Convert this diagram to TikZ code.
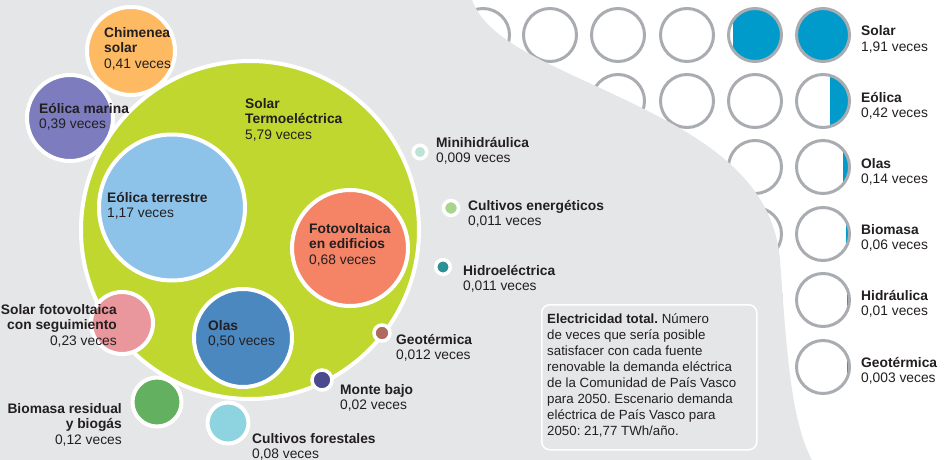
\documentclass[tikz,border=0pt]{standalone}
\usepackage{fontspec}
\setmainfont{Liberation Sans}
\definecolor{bggrey}{HTML}{E5E6E8}
\definecolor{ink}{HTML}{231F20}
\definecolor{ringgrey}{HTML}{A9ADB2}
\definecolor{sliceblue}{HTML}{009BCB}
\definecolor{termogreen}{HTML}{C0D72F}
\definecolor{terrblue}{HTML}{8DC3E9}
\definecolor{chimorange}{HTML}{FDBA63}
\definecolor{marinapurple}{HTML}{7C7CBE}
\definecolor{fotosalmon}{HTML}{F58466}
\definecolor{olasblue}{HTML}{4C88C0}
\definecolor{segpink}{HTML}{E9969C}
\definecolor{biogreen}{HTML}{62B060}
\definecolor{forecyan}{HTML}{8DD4E0}
\definecolor{montepurple}{HTML}{4B4A8E}
\definecolor{geobrown}{HTML}{B0695E}
\definecolor{hidroteal}{HTML}{2D9097}
\definecolor{cenergreen}{HTML}{A8D48C}
\definecolor{minipale}{HTML}{BFE2D6}
\newcommand\lblsize{\fontsize{13.8}{15.6}\selectfont}
\newcommand\notesize{\fontsize{13.3}{16}\selectfont}

\begin{document}
\frenchspacing
\begin{tikzpicture}[x=1pt, y=-1pt,
    bubble/.style={circle, draw=white, line width=4pt, inner sep=0pt, outer sep=0pt},
    dot/.style={circle, draw=white, line width=3.5pt, inner sep=0pt, outer sep=0pt},
    lbl/.style={align=left, anchor=base west, inner sep=0pt, text=ink, font=\lblsize},
    rlbl/.style={lbl, align=right, anchor=base east},
    ring/.style={draw=ringgrey, line width=3pt},
    notebox/.style={draw=white, line width=1.5pt, fill=bggrey, rounded corners=8pt, inner sep=0pt}
  ]
  \useasboundingbox (0,0) rectangle (945,460);
  \fill[white] (0,0) rectangle (945,460);

  \foreach \cx/\cy/\w in {755/35/48.5, 823/35/60, 823/101/19.5, 823/167/6.5,
      823/234/3.5, 823/300/3, 823/367/2.6} {
    \begin{scope}
      \clip (\cx,\cy) circle (26.5);
      \fill[sliceblue] (\cx+26.5-\w,\cy-30) rectangle (\cx+30,\cy+30);
    \end{scope}
  }
  \foreach \cy in {35,101,167,234,300,367} {
    \foreach \cx in {483,550,618,687,755,823} {
      \draw[ring] (\cx,\cy) circle (26.5);
    }
  }

  \fill[bggrey] (0,0) -- (472,0) .. controls (486,38) and (540,60) .. (600,88)
    .. controls (690,130) and (772,170) .. (780,260)
    .. controls (786,340) and (790,420) .. (812,460) -- (0,460) -- cycle;

  \node[notebox, minimum width=215pt, minimum height=145pt, anchor=north west] (nota) at (541,304) {};
  \node[lbl, font=\notesize] (nota-t) at (547,435) {\textbf{Electricidad total.} Número\\
    de veces que sería posible\\satisfacer con cada fuente\\
    renovable la demanda eléctrica\\de la Comunidad de País Vasco\\
    para 2050. Escenario demanda\\eléctrica de País Vasco para\\
    2050: 21,77 TWh/año.};

  \node[bubble, fill=termogreen, minimum size=338pt] (termo) at (250,230) {};
  \node[bubble, fill=terrblue, minimum size=146pt] (terr) at (172,207.5) {};
  \node[bubble, fill=fotosalmon, minimum size=116pt] (foto) at (350,248) {};
  \node[bubble, fill=olasblue, minimum size=98pt] (olas) at (243,338) {};
  \node[bubble, fill=chimorange, minimum size=88pt] (chim) at (131,51) {};
  \node[bubble, fill=marinapurple, minimum size=86pt] (marina) at (70,118) {};
  \node[bubble, fill=segpink, minimum size=62pt] (seg) at (122,323) {};
  \node[bubble, fill=biogreen, minimum size=49pt] (bior) at (157,402) {};
  \node[bubble, fill=forecyan, minimum size=41pt] (fore) at (228,423) {};
  \node[dot, fill=montepurple, minimum size=20pt] (monte) at (322,380) {};
  \node[dot, fill=geobrown, minimum size=16pt] (geo) at (382,333) {};
  \node[dot, fill=hidroteal, minimum size=14.5pt] (hidro) at (443,267) {};
  \node[dot, fill=cenergreen, minimum size=15pt] (cener) at (451,208) {};
  \node[dot, fill=minipale, minimum size=13.5pt] (mini) at (420,152) {};

  \node[lbl] (chim-l) at (104,68.2) {\textbf{Chimenea}\\\textbf{solar}\\0,41 veces};
  \node[lbl] (marina-l) at (39,128.6) {\textbf{Eólica marina}\\0,39 veces};
  \node[lbl] (termo-l) at (245,139.2) {\textbf{Solar}\\\textbf{Termoeléctrica}\\5,79 veces};
  \node[lbl] (terr-l) at (107,217.6) {\textbf{Eólica terrestre}\\1,17 veces};
  \node[lbl] (foto-l) at (309,264.2) {\textbf{Fotovoltaica}\\\textbf{en edificios}\\0,68 veces};
  \node[lbl] (olas-l) at (208,345.6) {\textbf{Olas}\\0,50 veces};
  \node[rlbl] (seg-l) at (117,345.2) {\textbf{Solar fotovoltaica}\\\textbf{con seguimiento}\\0,23 veces};
  \node[rlbl] (bior-l) at (122,444.2) {\textbf{Biomasa residual}\\\textbf{y biogás}\\0,12 veces};
  \node[lbl] (fore-l) at (252,458.6) {\textbf{Cultivos forestales}\\0,08 veces};
  \node[lbl] (monte-l) at (340,409.6) {\textbf{Monte bajo}\\0,02 veces};
  \node[lbl] (geo-l) at (396,359.6) {\textbf{Geotérmica}\\0,012 veces};
  \node[lbl] (hidro-l) at (463,290.6) {\textbf{Hidroeléctrica}\\0,011 veces};
  \node[lbl] (cener-l) at (468,225.6) {\textbf{Cultivos energéticos}\\0,011 veces};
  \node[lbl] (mini-l) at (436,162.6) {\textbf{Minihidráulica}\\0,009 veces};

  \node[lbl] (solar-r) at (861,51.6) {\textbf{Solar}\\1,91 veces};
  \node[lbl] (eolica-r) at (861,117.6) {\textbf{Eólica}\\0,42 veces};
  \node[lbl] (olas-r) at (861,183.6) {\textbf{Olas}\\0,14 veces};
  \node[lbl] (biomasa-r) at (861,249.6) {\textbf{Biomasa}\\0,06 veces};
  \node[lbl] (hidraulica-r) at (861,315.6) {\textbf{Hidráulica}\\0,01 veces};
  \node[lbl] (geotermica-r) at (861,382.6) {\textbf{Geotérmica}\\0,003 veces};
\end{tikzpicture}
\end{document}
